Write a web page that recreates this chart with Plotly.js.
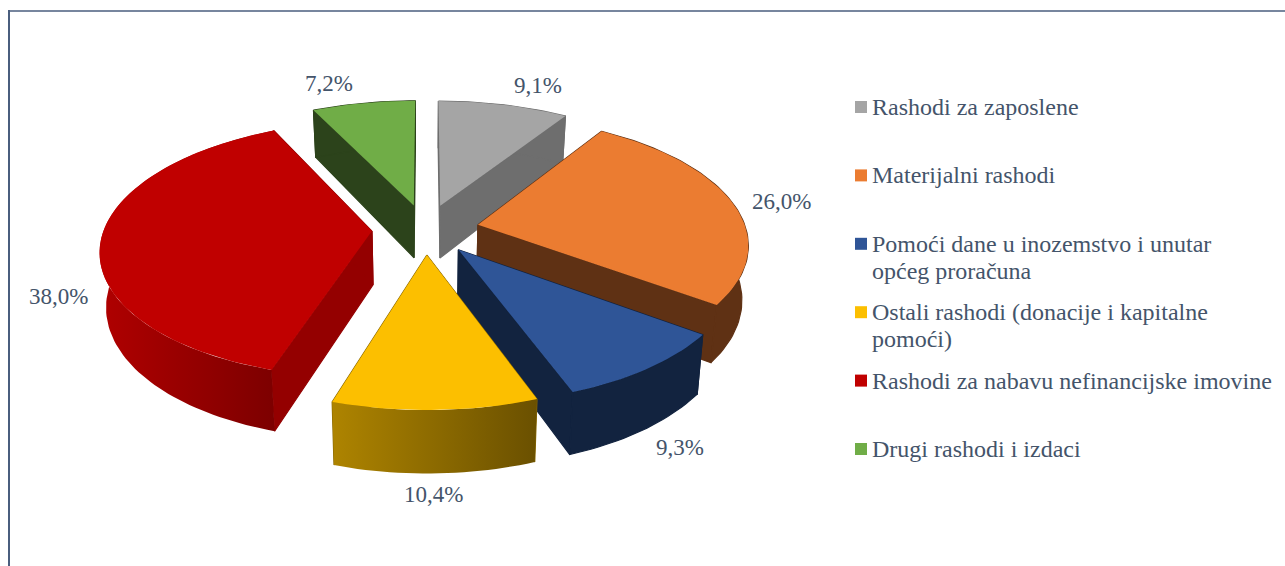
<!DOCTYPE html>
<html>
<head>
<meta charset="utf-8">
<script src="https://cdn.plot.ly/plotly-3.0.1.min.js"></script>
<style>html,body{margin:0;padding:0;background:#fff;overflow:hidden}#chart{width:1285px;height:566px}</style>
</head>
<body>
<div id="chart"></div>
<script>
// ---- data ----
const categories = [
  "Rashodi za zaposlene",
  "Materijalni rashodi",
  "Pomoći dane u inozemstvo i unutar\nopćeg proračuna",
  "Ostali rashodi (donacije i kapitalne\npomoći)",
  "Rashodi za nabavu nefinancijske imovine",
  "Drugi rashodi i izdaci"
];
const values = [9.1, 26.0, 9.3, 10.4, 38.0, 7.2];
const valueLabels = ["9,1%", "26,0%", "9,3%", "10,4%", "38,0%", "7,2%"];

// ---- styles ----
const topColors  = ["#A5A5A5", "#EB7C31", "#2F5597", "#FCBF00", "#C00000", "#70AD47"];
const cutColors  = ["#6E6E6E", "#5F3114", "#12233F", "#8A6800", "#940000", "#2C431B"];
const wallColors = [
  ["#6E6E6E", "#6E6E6E"], ["#5F3114", "#5F3114"], ["#12233F", "#12233F"],
  ["#AE8400", "#6A5000"], ["#B00000", "#7C0000"], ["#2C431B", "#2C431B"]
];
const drawOrder = [0, 5, 1, 4, 2, 3];
const textColor = "#44546A";
const fontFamily = '"Liberation Serif", "Times New Roman", serif';

// ---- perspective projection of the tilted, exploded pie ----
const cx = 425.5, cy = 229.2, S = 268, A = 125.4, k = 0.14, pull = 0.2;
const baseScaleX = 0.98, baseScaleY = 1.055, baseShift = 41;
const rad = d => d * Math.PI / 180;
const total = values.reduce((s, v) => s + v, 0);

function topPoint(deg, radius, mid) {
  const X = pull * Math.sin(rad(mid)) + radius * Math.sin(rad(deg));
  const T = -pull * Math.cos(rad(mid)) - radius * Math.cos(rad(deg));
  const w = 1 - k * T;
  return [cx + S * X / w, cy + A * T / w];
}
const basePoint = p => [cx + (p[0] - cx) * baseScaleX, p[1] * baseScaleY + baseShift];

function poly(points, color, gradient, lineWidth) {
  const tr = {
    type: "scatter", mode: "lines", fill: "toself",
    x: points.map(p => p[0]).concat(points[0][0]),
    y: points.map(p => p[1]).concat(points[0][1]),
    line: { width: lineWidth || 0, color: color }, fillcolor: color,
    hoverinfo: "skip", showlegend: false
  };
  if (gradient) {
    tr.fillgradient = { type: "horizontal", colorscale: [[0, gradient[0]], [1, gradient[1]]] };
  }
  return tr;
}

const traces = [];
let cum = 0;
const slices = values.map(v => {
  const s = { a0: cum / total * 360, a1: (cum + v) / total * 360 };
  cum += v;
  return s;
});

drawOrder.forEach(i => {
  const { a0, a1 } = slices[i];
  const mid = (a0 + a1) / 2;
  const arc = [];
  const n = Math.max(6, Math.ceil((a1 - a0) / 1.5));
  for (let j = 0; j <= n; j++) arc.push(topPoint(a0 + (a1 - a0) * j / n, 1, mid));
  const apex = topPoint(0, 0, mid);
  const first = arc[0], last = arc[arc.length - 1];
  traces.push(poly([apex, first, basePoint(first), basePoint(apex)], cutColors[i], null, 1.2));
  traces.push(poly([apex, last, basePoint(last), basePoint(apex)], cutColors[i], null, 1.2));
  const wall = arc.concat(arc.slice().reverse().map(basePoint));
  const g = wallColors[i];
  traces.push(poly(wall, g[0], g[0] !== g[1] ? g : null, g[0] !== g[1] ? 0 : 1.2));
  traces.push(poly([apex].concat(arc), topColors[i]));
});

// ---- legend ----
const legendX = 861, legendTextX = 871, legendY0 = 107, legendStep = 68.4, legendLineGap = 27;
const legendYs = categories.map((_, i) => legendY0 + i * legendStep);
traces.push({
  type: "scatter", mode: "markers",
  x: legendYs.map(() => legendX), y: legendYs,
  marker: { symbol: "square", size: 12, color: topColors, line: { width: 0 } },
  hoverinfo: "skip", showlegend: false
});

const annotations = [];
categories.forEach((c, i) => {
  c.split("\n").forEach((line, j) => {
    annotations.push({
      x: legendTextX, y: legendYs[i] + j * legendLineGap, xref: "x", yref: "y",
      text: line, showarrow: false, xanchor: "left", yanchor: "middle",
      font: { family: fontFamily, size: 24, color: textColor }, borderpad: 0
    });
  });
});

// ---- value labels ----
const labelXs = [538, 781, 680, 433, 58, 329];
const labelYs = [85, 201, 447, 494, 296, 83];
valueLabels.forEach((t, i) => {
  annotations.push({
    x: labelXs[i], y: labelYs[i], xref: "x", yref: "y",
    text: t, showarrow: false, xanchor: "center", yanchor: "middle",
    font: { family: fontFamily, size: 23, color: textColor }, borderpad: 0
  });
});

const frame = "#4A5E7E";
const layout = {
  width: 1285, height: 566,
  margin: { l: 0, r: 0, t: 0, b: 0 },
  paper_bgcolor: "#fff", plot_bgcolor: "#fff",
  showlegend: false,
  xaxis: { range: [0, 1285], visible: false, fixedrange: true },
  yaxis: { range: [566, 0], visible: false, fixedrange: true },
  annotations: annotations,
  shapes: [
    { type: "line", xref: "x", yref: "y", x0: 8, x1: 1285, y0: 11, y1: 11, line: { color: frame, width: 1.5 } },
    { type: "line", xref: "x", yref: "y", x0: 9, x1: 9, y0: 10, y1: 566, line: { color: frame, width: 2 } }
  ]
};
Plotly.newPlot("chart", traces, layout, { staticPlot: true, displayModeBar: false });
</script>
</body>
</html>
